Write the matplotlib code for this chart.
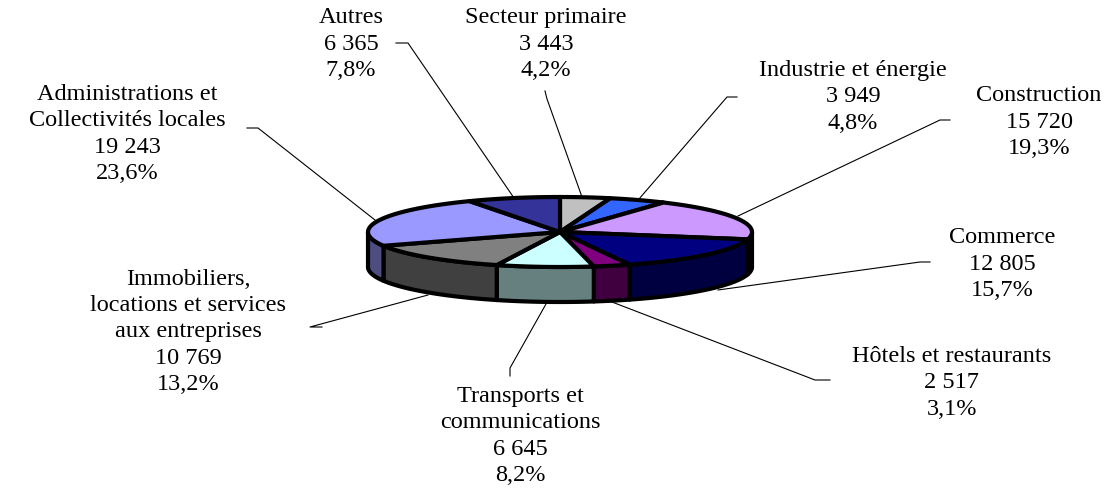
import numpy as np
import matplotlib
matplotlib.use('Agg')
import matplotlib.pyplot as plt
from matplotlib.patches import Polygon

plt.rcParams['font.family'] = ['Liberation Serif', 'DejaVu Serif']

# donnees, dans le sens du camembert a partir de midi
noms = ['Secteur primaire', 'Industrie et énergie', 'Construction', 'Commerce',
        'Hôtels et restaurants', 'Transports et\ncommunications',
        'Immobiliers,\nlocations et services\naux entreprises',
        'Administrations et\nCollectivités locales', 'Autres']
valeurs = [3443, 3949, 15720, 12805, 2517, 6645, 10769, 19243, 6365]
valeurs_txt = ['3 443', '3 949', '15 720', '12 805', '2 517', '6 645', '10 769', '19 243', '6 365']
parts = ['4,2%', '4,8%', '19,3%', '15,7%', '3,1%', '8,2%', '13,2%', '23,6%', '7,8%']
couleurs = ['#C0C0C0', '#3366FF', '#CC99FF', '#000080', '#800080', '#CCFFFF', '#808080', '#9999FF', '#333399']
cotes = ['#606060', '#1A3380', '#665080', '#000040', '#400040', '#668080', '#404040', '#4D4D80', '#1A1A4D']

# centre des blocs de texte (pixels)
pos_txt = [(546, 44), (853, 97), (1039, 122), (1002, 264), (952, 383), (520, 436), (188, 332), (127, 134), (351, 44)]
# traits de rappel
traits = [[(545, 91), (547, 99), (582, 197)],
          [(737, 97), (727, 97), (639, 199)],
          [(950, 120), (940, 120), (738, 216)],
          [(930, 262), (920, 262), (718, 290)],
          [(830, 380), (815, 380), (612, 302)],
          [(510, 376), (510, 368), (546, 304)],
          [(322, 327), (310, 327), (428, 295)],
          [(247, 128), (258, 128), (375, 220)],
          [(396, 43), (408, 43), (514, 198)]]

cx, cy, rx, ry, ep = 560, 232, 192, 35, 35


def arc(t1, t2, dy=0):
    t = np.radians(np.linspace(t1, t2, 80))
    return np.column_stack([cx + rx * np.sin(t), cy - ry * np.cos(t) + dy])


fig = plt.figure(figsize=(11.19, 4.88), dpi=100)
ax = fig.add_axes([0, 0, 1, 1])
ax.set_xlim(0, 1119)
ax.set_ylim(488, 0)
ax.axis('off')

bornes = np.concatenate([[0], np.cumsum(valeurs)]) / np.sum(valeurs) * 360

# cotes du camembert (seulement la moitie avant)
for i in range(len(valeurs)):
    t1 = max(bornes[i], 90)
    t2 = min(bornes[i + 1], 270)
    if t1 < t2:
        pts = np.vstack([arc(t1, t2), arc(t1, t2, ep)[::-1]])
        ax.add_patch(Polygon(pts, closed=True, fc=cotes[i], ec='black', lw=3, joinstyle='round', zorder=2))

# dessus
for i in range(len(valeurs)):
    pts = np.vstack([[(cx, cy)], arc(bornes[i], bornes[i + 1])])
    ax.add_patch(Polygon(pts, closed=True, fc=couleurs[i], ec='black', lw=3, joinstyle='round', zorder=3))

for tr in traits:
    x, y = zip(*tr)
    ax.plot(x, y, color='black', lw=0.8, zorder=1)

for i in range(len(noms)):
    ax.text(pos_txt[i][0], pos_txt[i][1], noms[i] + '\n' + valeurs_txt[i] + '\n' + parts[i],
            ha='center', va='center', ma='center', fontsize=17.5, linespacing=1.33, color='black', zorder=4)

fig.savefig('out.png', dpi=100)
